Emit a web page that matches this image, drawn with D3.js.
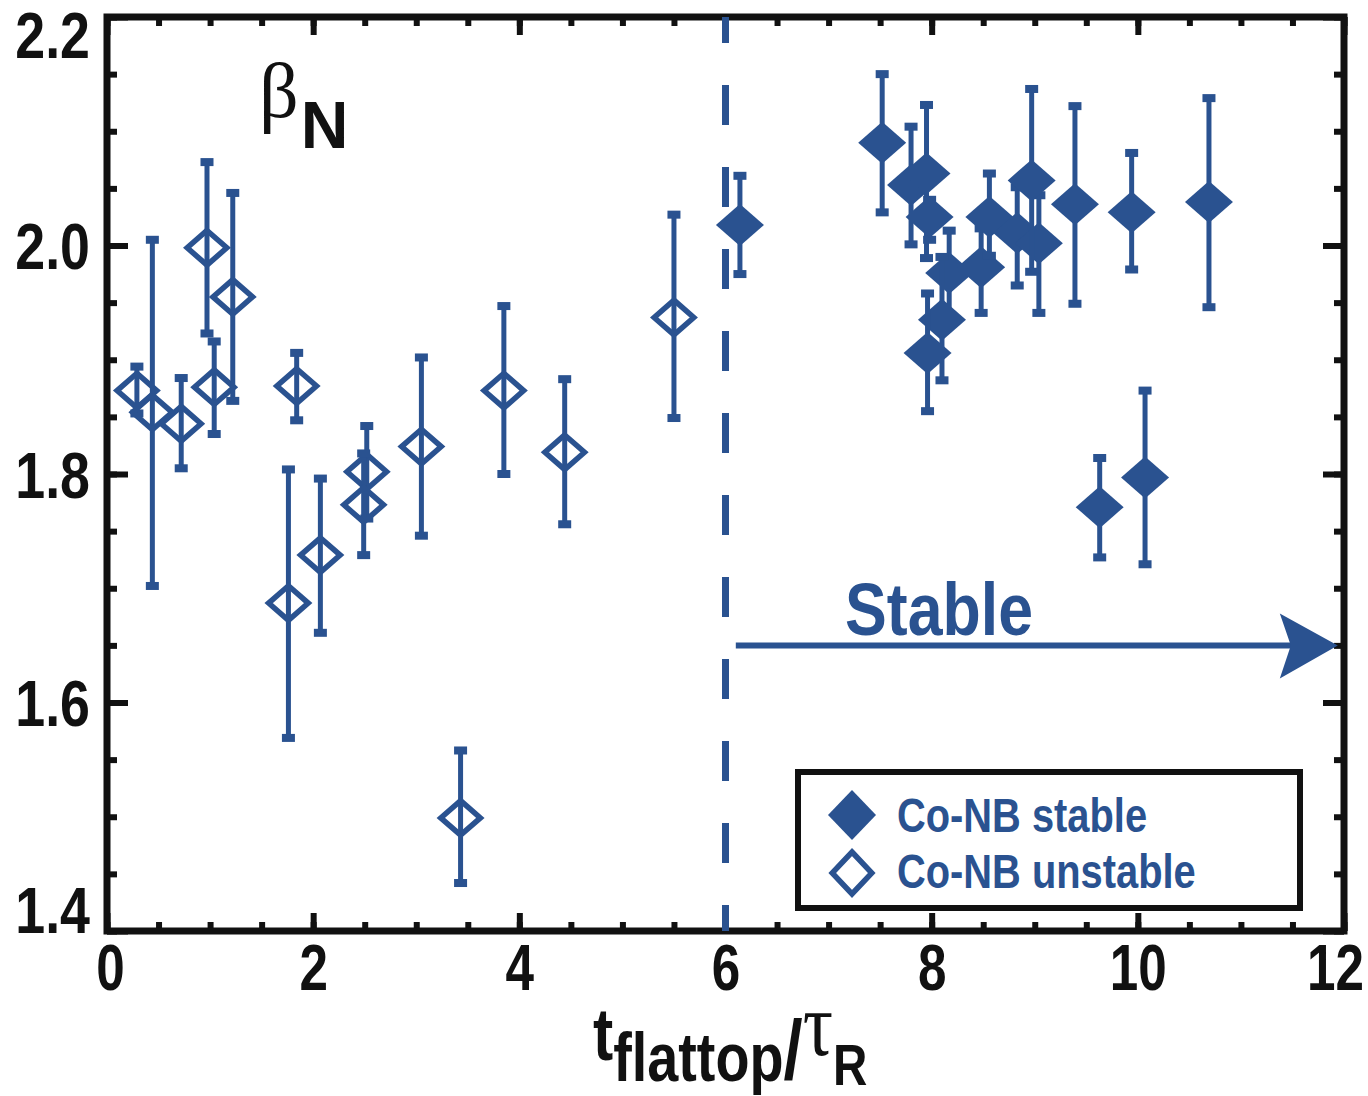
<!DOCTYPE html>
<html>
<head>
<meta charset="utf-8">
<script src="https://cdn.jsdelivr.net/npm/d3@7"></script>
<style>
  body { margin: 0; background: #fff; }
  svg { display: block; }
</style>
</head>
<body>
<svg id="chart" width="1368" height="1096"></svg>
<script>
// --- data ---
// Co-NB stable (filled diamonds)
const stableX  = [6.14, 7.52, 7.80, 7.95, 7.98, 8.17, 8.10, 7.96, 8.48, 8.56, 8.83, 9.04, 8.97, 9.39, 9.94, 10.69, 9.63, 10.07];
const stableY  = [2.018, 2.090, 2.053, 2.063, 2.025, 1.976, 1.935, 1.906, 1.981, 2.025, 2.011, 2.002, 2.057, 2.036, 2.029, 2.038, 1.771, 1.797];
const stableLo = [1.975, 2.029, 2.001, 1.989, 2.005, 1.939, 1.882, 1.855, 1.941, 1.991, 1.965, 1.941, 1.977, 1.949, 1.979, 1.946, 1.727, 1.721];
const stableHi = [2.061, 2.150, 2.104, 2.123, 2.040, 2.013, 1.990, 1.958, 2.015, 2.063, 2.051, 2.044, 2.137, 2.122, 2.081, 2.129, 1.814, 1.873];

// Co-NB unstable (open diamonds)
const unstableX  = [0.29, 0.44, 0.72, 0.97, 1.04, 1.22, 1.84, 1.76, 2.07, 2.52, 2.49, 3.05, 3.85, 4.44, 5.50, 3.43];
const unstableY  = [1.873, 1.854, 1.844, 1.998, 1.876, 1.955, 1.877, 1.687, 1.729, 1.802, 1.773, 1.824, 1.873, 1.819, 1.937, 1.499];
const unstableLo = [1.853, 1.702, 1.805, 1.923, 1.835, 1.864, 1.847, 1.569, 1.661, 1.761, 1.729, 1.746, 1.800, 1.756, 1.849, 1.442];
const unstableHi = [1.894, 2.005, 1.884, 2.073, 1.916, 2.046, 1.906, 1.804, 1.796, 1.842, 1.818, 1.902, 1.947, 1.883, 2.027, 1.558];

const xMajor = [0, 2, 4, 6, 8, 10, 12];
const xMinor = d3.range(0, 12.01, 0.5);
const yMajor = [1.4, 1.6, 1.8, 2.0, 2.2];
const yMinor = d3.range(1.4, 2.201, 0.05);

// annotations
const dividerX = 6;
const arrowFrom = 6.1, arrowTo = 11.94, arrowY = 1.65;
const stableLabel = { text: 'Stable', x: 7.16, y: 1.659 };
const legendItems = ['Co-NB stable', 'Co-NB unstable'];

// --- drawing ---
const BLUE = '#2a5290';
const INK = '#111';
const SANS = '"Liberation Sans", Arial, Helvetica, sans-serif';
const SERIF = '"Liberation Serif", "Times New Roman", serif';

const svg = d3.select('#chart');
const x = d3.scaleLinear().domain([0, 12]).range([107, 1344]);
const y = d3.scaleLinear().domain([1.4, 2.2]).range([931, 17]);

// squeeze text horizontally to mimic the condensed face
function condense(sel, k) {
  sel.each(function() {
    const t = d3.select(this);
    const tx = +t.attr('x') || 0, ty = +t.attr('y') || 0;
    t.attr('x', 0).attr('y', 0)
      .attr('transform', `translate(${tx},${ty}) scale(${k},1)`);
  });
}

function axisGroup(axis, tx, ty) {
  const g = svg.append('g').attr('transform', `translate(${tx},${ty})`).call(axis);
  g.select('.domain').remove();
  g.selectAll('.tick line').attr('stroke', INK).attr('stroke-width', 6);
  return g;
}

// minor ticks
axisGroup(d3.axisLeft(y).tickValues(yMinor).tickSize(-10).tickFormat(''), x(0), 0);
axisGroup(d3.axisRight(y).tickValues(yMinor).tickSize(-10).tickFormat(''), x(12), 0);
axisGroup(d3.axisBottom(x).tickValues(xMinor).tickSize(-9).tickFormat(''), 0, y(1.4));
axisGroup(d3.axisTop(x).tickValues(xMinor).tickSize(-9).tickFormat(''), 0, y(2.2));

// major ticks + labels
const gl = axisGroup(d3.axisLeft(y).tickValues(yMajor).tickSize(-21).tickPadding(17)
  .tickFormat(d3.format('.1f')), x(0), 0);
axisGroup(d3.axisRight(y).tickValues(yMajor).tickSize(-21).tickFormat(''), x(12), 0);
const gb = axisGroup(d3.axisBottom(x).tickValues(xMajor).tickSize(-18).tickPadding(14)
  .tickFormat(d3.format('d')), 0, y(1.4));
axisGroup(d3.axisTop(x).tickValues(xMajor).tickSize(-18).tickFormat(''), 0, y(2.2));

[gl, gb].forEach(g => g.selectAll('text')
  .attr('fill', INK).attr('font-family', SANS).attr('font-weight', 'bold').attr('font-size', 64));
// end labels are pulled inside the axis extent, as in the original
gl.selectAll('.tick text').attr('y', d => d === 2.2 ? 20 : d === 1.4 ? -19 : 3);
gb.selectAll('.tick text').attr('x', d => d === 12 ? -9 : d === 0 ? 3 : 0);
condense(gl.selectAll('text'), 0.84);
condense(gb.selectAll('text'), 0.8);

// frame
svg.append('rect')
  .attr('x', x(0)).attr('y', y(2.2))
  .attr('width', x(12) - x(0)).attr('height', y(1.4) - y(2.2))
  .attr('fill', 'none').attr('stroke', INK).attr('stroke-width', 7);

// dashed divider at t/tau = 6
svg.append('line')
  .attr('x1', x(dividerX)).attr('x2', x(dividerX))
  .attr('y1', y(2.2)).attr('y2', y(1.4))
  .attr('stroke', BLUE).attr('stroke-width', 7)
  .attr('stroke-dasharray', '40 42').attr('stroke-dashoffset', 14);

// stable arrow
svg.append('line')
  .attr('x1', x(arrowFrom)).attr('x2', x(arrowTo) - 40)
  .attr('y1', y(arrowY)).attr('y2', y(arrowY))
  .attr('stroke', BLUE).attr('stroke-width', 6);
svg.append('path')
  .attr('transform', `translate(${x(arrowTo)},${y(arrowY)})`)
  .attr('d', 'M0,0 L-58,-32 L-47,0 L-58,33 Z')
  .attr('fill', BLUE);
const st = svg.append('text')
  .attr('x', x(stableLabel.x)).attr('y', y(stableLabel.y))
  .attr('fill', BLUE).attr('font-family', SANS).attr('font-weight', 'bold')
  .attr('font-size', 75).text(stableLabel.text);
condense(st, 0.835);

// error bars + diamonds
const diamond = (w, h) => `M0,${-h} L${w},0 L0,${h} L${-w},0 Z`;

function drawSeries(xs, ys, lo, hi, filled) {
  const pts = xs.map((d, i) => ({ x: d, y: ys[i], lo: lo[i], hi: hi[i] }));
  const g = svg.append('g');
  pts.forEach(p => {
    const px = x(p.x);
    g.append('line')
      .attr('x1', px).attr('x2', px).attr('y1', y(p.hi)).attr('y2', y(p.lo))
      .attr('stroke', BLUE).attr('stroke-width', 5);
    [p.lo, p.hi].forEach(v => g.append('rect')
      .attr('x', px - 6.5).attr('y', y(v) - 4).attr('width', 13).attr('height', 8)
      .attr('fill', BLUE));
    const m = g.append('path').attr('transform', `translate(${px},${y(p.y)})`);
    if (filled) m.attr('d', diamond(24, 21)).attr('fill', BLUE);
    else m.attr('d', diamond(19.8, 17.3)).attr('fill', 'none')
      .attr('stroke', BLUE).attr('stroke-width', 5.5);
  });
}
drawSeries(unstableX, unstableY, unstableLo, unstableHi, false);
drawSeries(stableX, stableY, stableLo, stableHi, true);

// legend
svg.append('rect')
  .attr('x', 798).attr('y', 772).attr('width', 502).attr('height', 136)
  .attr('fill', '#fff').attr('stroke', INK).attr('stroke-width', 6);
svg.append('path').attr('transform', 'translate(852,815)')
  .attr('d', diamond(24, 25)).attr('fill', BLUE);
svg.append('path').attr('transform', 'translate(852,873)')
  .attr('d', diamond(19.8, 21)).attr('fill', 'none').attr('stroke', BLUE).attr('stroke-width', 5.5);
legendItems.forEach((t, i) => {
  const lt = svg.append('text')
    .attr('x', 897).attr('y', 832 + i * 56)
    .attr('fill', BLUE).attr('font-family', SANS).attr('font-weight', 'bold')
    .attr('font-size', 48).text(t);
  condense(lt, 0.83);
});

// beta_N label
const bn = svg.append('text').attr('x', 259).attr('y', 117).attr('fill', INK);
bn.append('tspan').attr('font-family', SERIF).attr('font-size', 78).text('β');
bn.append('tspan').attr('font-family', SANS).attr('font-weight', 'bold')
  .attr('font-size', 66).attr('dy', 31).attr('dx', 2).attr('textLength', 33).text('N');

// x axis title: t_flattop / tau_R
const xt = svg.append('text').attr('x', 593).attr('y', 1060).attr('fill', INK)
  .attr('font-family', SANS).attr('font-weight', 'bold');
xt.append('tspan').attr('font-size', 74).text('t');
xt.append('tspan').attr('font-size', 68).attr('dy', 21).text('flattop');
xt.append('tspan').attr('font-size', 84).attr('dy', -2).text('/');
xt.append('tspan').attr('font-family', SERIF).attr('font-weight', 'normal')
  .attr('font-size', 92).attr('dy', -24).text('τ');
xt.append('tspan').attr('font-size', 58).attr('dy', 30).text('R');
condense(xt, 0.82);
</script>
</body>
</html>
